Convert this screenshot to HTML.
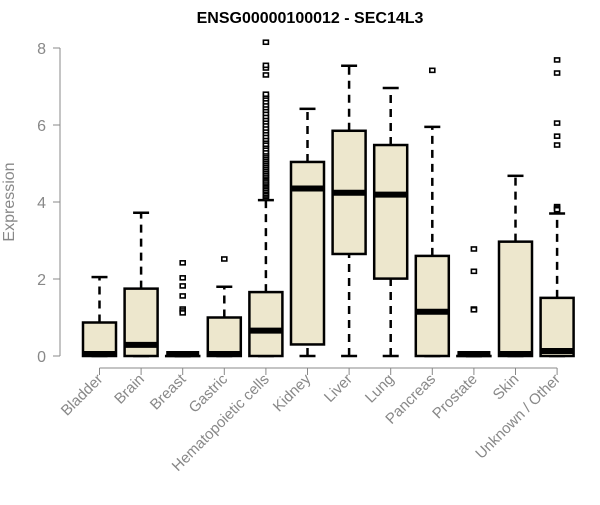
<!DOCTYPE html>
<html><head><meta charset="utf-8"><style>
body{margin:0;background:#fff;font-family:"Liberation Sans",Arial,sans-serif}
</style></head><body>
<svg id="chart" width="600" height="500" xmlns="http://www.w3.org/2000/svg">
<text x="310" y="23" text-anchor="middle" font-size="16" font-weight="bold" font-family="Liberation Sans, sans-serif">ENSG00000100012 - SEC14L3</text>
<text transform="translate(14,202) rotate(-90)" text-anchor="middle" font-size="16" fill="#888">Expression</text>
<g id="plot"></g>
</svg>
<script>
const categories=["Bladder","Brain","Breast","Gastric","Hematopoietic cells","Kidney","Liver","Lung","Pancreas","Prostate","Skin","Unknown / Other"];
const lowWhisker=[0,0,0,0,0,0,0,0,0,0,0,0];
const q1=[0,0,0,0,0,0.3,2.65,2.01,0,0,0,0];
const medians=[0,0.29,0,0,0.66,4.35,4.24,4.19,1.15,0,0,0.13];
const q3=[0.87,1.75,0,1.0,1.66,5.04,5.85,5.48,2.6,0,2.97,1.51];
const highWhisker=[2.05,3.72,0,1.8,4.05,6.42,7.54,6.96,5.95,0,4.68,3.7];
const outliers=[[],[],[2.42,2.03,1.82,1.56,1.22,1.17,1.12],[2.52],
[4.1,4.14,4.18,4.22,4.27,4.3,4.35,4.4,4.44,4.48,4.52,4.57,4.62,4.66,4.7,4.75,4.8,4.85,4.9,4.95,5.0,5.05,5.1,5.15,5.2,5.25,5.3,5.38,5.45,5.5,5.58,5.63,5.7,5.78,5.85,5.92,6.0,6.08,6.15,6.22,6.3,6.38,6.45,6.52,6.6,6.68,6.75,6.8,7.3,7.48,7.55,8.15],
[],[],[],[7.42],[2.78,2.2,1.22,1.2],[],[7.69,7.35,6.05,5.71,5.48,3.88,3.84,3.8]];
const yTicks=[0,2,4,6,8];
const NS="http://www.w3.org/2000/svg";
const g=document.getElementById('plot');
const y=v=>356-v*38.5;
const x=i=>99.5+i*41.6;
function el(t,a){const e=document.createElementNS(NS,t);for(const k in a)e.setAttribute(k,a[k]);g.appendChild(e);return e;}
let ax=el('line',{x1:60,y1:y(0),x2:60,y2:y(8),stroke:'#888','stroke-width':1});


yTicks.forEach(v=>{
 let t=el('line',{x1:53,x2:60,y1:y(v),y2:y(v),stroke:'#888'});
 
 
 let l=el('text',{x:46,y:y(v)+6,'text-anchor':'end','font-size':16,fill:'#888'});
 l.textContent=v;
 
 
});
let xa=el('line',{x1:x(0),x2:x(11),y1:368,y2:368,stroke:'#888'});


categories.forEach((c,i)=>{
 const cx=x(i),w=16.5;
 let tk=el('line',{x1:cx,x2:cx,y1:368,y2:375,stroke:'#888'});
 
 
 let lb=el('text',{x:cx+4,y:380,'text-anchor':'end','font-size':15,fill:'#888',transform:`rotate(-45 ${cx+4} 380)`});
 lb.textContent=c;
 
 
 let wl=el('line',{x1:cx,x2:cx,y1:y(q3[i]),y2:y(highWhisker[i]),stroke:'#000','stroke-width':2.5,'stroke-dasharray':'8,6'});
 
 
 let wl2=el('line',{x1:cx,x2:cx,y1:y(lowWhisker[i]),y2:y(q1[i]),stroke:'#000','stroke-width':2.5,'stroke-dasharray':'8,6'});
 
 
 let cap=el('line',{x1:cx-8,x2:cx+8,y1:y(highWhisker[i]),y2:y(highWhisker[i]),stroke:'#000','stroke-width':2.5});
 
 
 let cap2=el('line',{x1:cx-8,x2:cx+8,y1:y(lowWhisker[i]),y2:y(lowWhisker[i]),stroke:'#000','stroke-width':2.5});
 
 
 let b=el('rect',{x:cx-w,y:y(q3[i]),width:2*w,height:Math.max(0.1,y(q1[i])-y(q3[i])),fill:'#ede7cd',stroke:'#000','stroke-width':2.5});
 
 
 let m=el('line',{x1:cx-w,x2:cx+w,y1:Math.min(y(medians[i]),y(0)-2),y2:Math.min(y(medians[i]),y(0)-2),stroke:'#000','stroke-width':6});
 
 
 outliers[i].forEach(v=>{
  let o=el('rect',{x:cx-2.5,y:y(v)-2,width:5,height:4,fill:'#fff',stroke:'#000','stroke-width':1.6});
  
  
 });
});
</script>
</body></html>
